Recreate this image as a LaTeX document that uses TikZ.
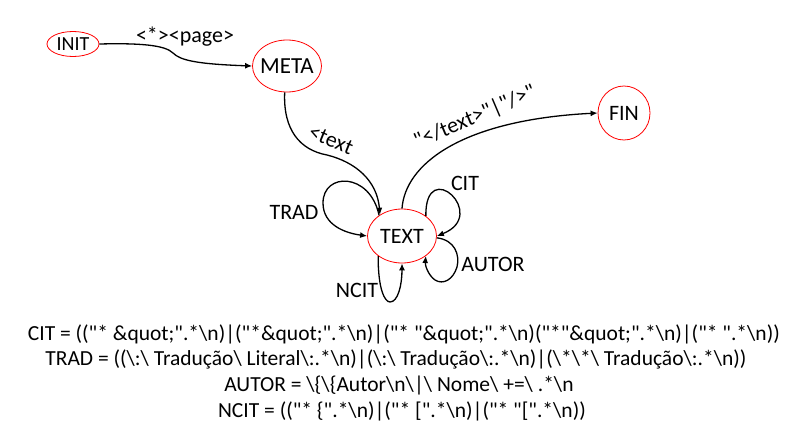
\documentclass[tikz,border=0pt]{standalone}
\usepackage{fontspec}
\setmainfont{Carlito}[Ligatures=TeXOff]
\usetikzlibrary{shapes.geometric,arrows.meta}
\newcommand\nodetxt[1]{\makebox[0pt]{\raisebox{-0.32em}[0pt][0pt]{#1}}}
\tikzset{
  state/.style={ellipse,draw=red,line width=0.8pt,inner sep=0pt,font=\fontsize{22}{26}\selectfont},
  edge/.style={line width=1.3pt,-{Latex[length=7pt,width=6pt]}},
  elabel/.style={font=\fontsize{22}{26}\selectfont,inner sep=0pt},
  rule/.style={font=\fontsize{21.5}{25}\selectfont,inner sep=0pt,anchor=base}
}
\begin{document}
\begin{tikzpicture}[x=1pt,y=-1pt]
\useasboundingbox (0,0) rectangle (803,447);
\node[state,minimum width=52pt,minimum height=25pt,font=\fontsize{20}{24}\selectfont] (init) at (73,44) {\nodetxt{INIT}};
\node[state,minimum width=69pt,minimum height=52pt,font=\fontsize{23}{27}\selectfont] (meta) at (287,66) {\nodetxt{META}};
\node[state,minimum width=69pt,minimum height=54pt] (text) at (402,236) {\nodetxt{TEXT}};
\node[state,minimum width=52pt,minimum height=54pt] (fin) at (624,113) {\nodetxt{FIN}};

\draw[edge] (init.east) .. controls (140,43) and (165,45) .. (173,53)
  .. controls (180,60) and (195,64) .. (meta.west);
\node[elabel] (lpage) at (185,37) {<*><page>};

\draw[edge] (meta.265) .. controls (283,130) and (300,150) .. (327,155)
  .. controls (355,162) and (377,180) .. (text.136);
\node[elabel,rotate=-22] (ltext) at (331,140) {<text};

\draw[edge] (text.north) .. controls (405,165) and (460,120) .. (fin.west);
\node[elabel,rotate=23] (lfin) at (475,117) {"</text>"|"/>"};

\draw[edge] (text.138) .. controls (370,172) and (323,172) .. (323,203)
  .. controls (323,225) and (345,233) .. (text.west);
\node[elabel] (ltrad) at (294,212) {TRAD};

\draw[edge] (text.40) .. controls (425,155) and (490,215) .. (text.east);
\node[elabel] (lcit) at (465,183) {CIT};

\draw[edge] (text.-3) .. controls (455,240) and (460,255) .. (457,267)
  .. controls (453,280) and (443,285) .. (435,280)
  .. controls (428,275) and (425,265) .. (text.-40);
\node[elabel] (lautor) at (493,264) {AUTOR};

\draw[edge] (text.-140) .. controls (378,290) and (385,302) .. (390,302)
  .. controls (398,302) and (402,285) .. (text.south);
\node[elabel] (lncit) at (357,290) {NCIT};

\node[rule] (rcit) at (404,340) {CIT = (("* \&quot;".*\textbackslash n)|("*\&quot;".*\textbackslash n)|("* "\&quot;".*\textbackslash n)("*"\&quot;".*\textbackslash n)|("* ".*\textbackslash n))};
\node[rule] (rtrad) at (396,365) {TRAD = ((\textbackslash:\textbackslash\ Tradução\textbackslash\ Literal\textbackslash:.*\textbackslash n)|(\textbackslash:\textbackslash\ Tradução\textbackslash:.*\textbackslash n)|(\textbackslash*\textbackslash*\textbackslash\ Tradução\textbackslash:.*\textbackslash n))};
\node[rule] (rautor) at (399,391) {AUTOR = \textbackslash\{\textbackslash\{Autor\textbackslash n\textbackslash|\textbackslash\ Nome\textbackslash\ +=\textbackslash\ .*\textbackslash n};
\node[rule] (rncit) at (402,417) {NCIT = (("* \{".*\textbackslash n)|("* [".*\textbackslash n)|("* "[".*\textbackslash n))};
\end{tikzpicture}
\end{document}
